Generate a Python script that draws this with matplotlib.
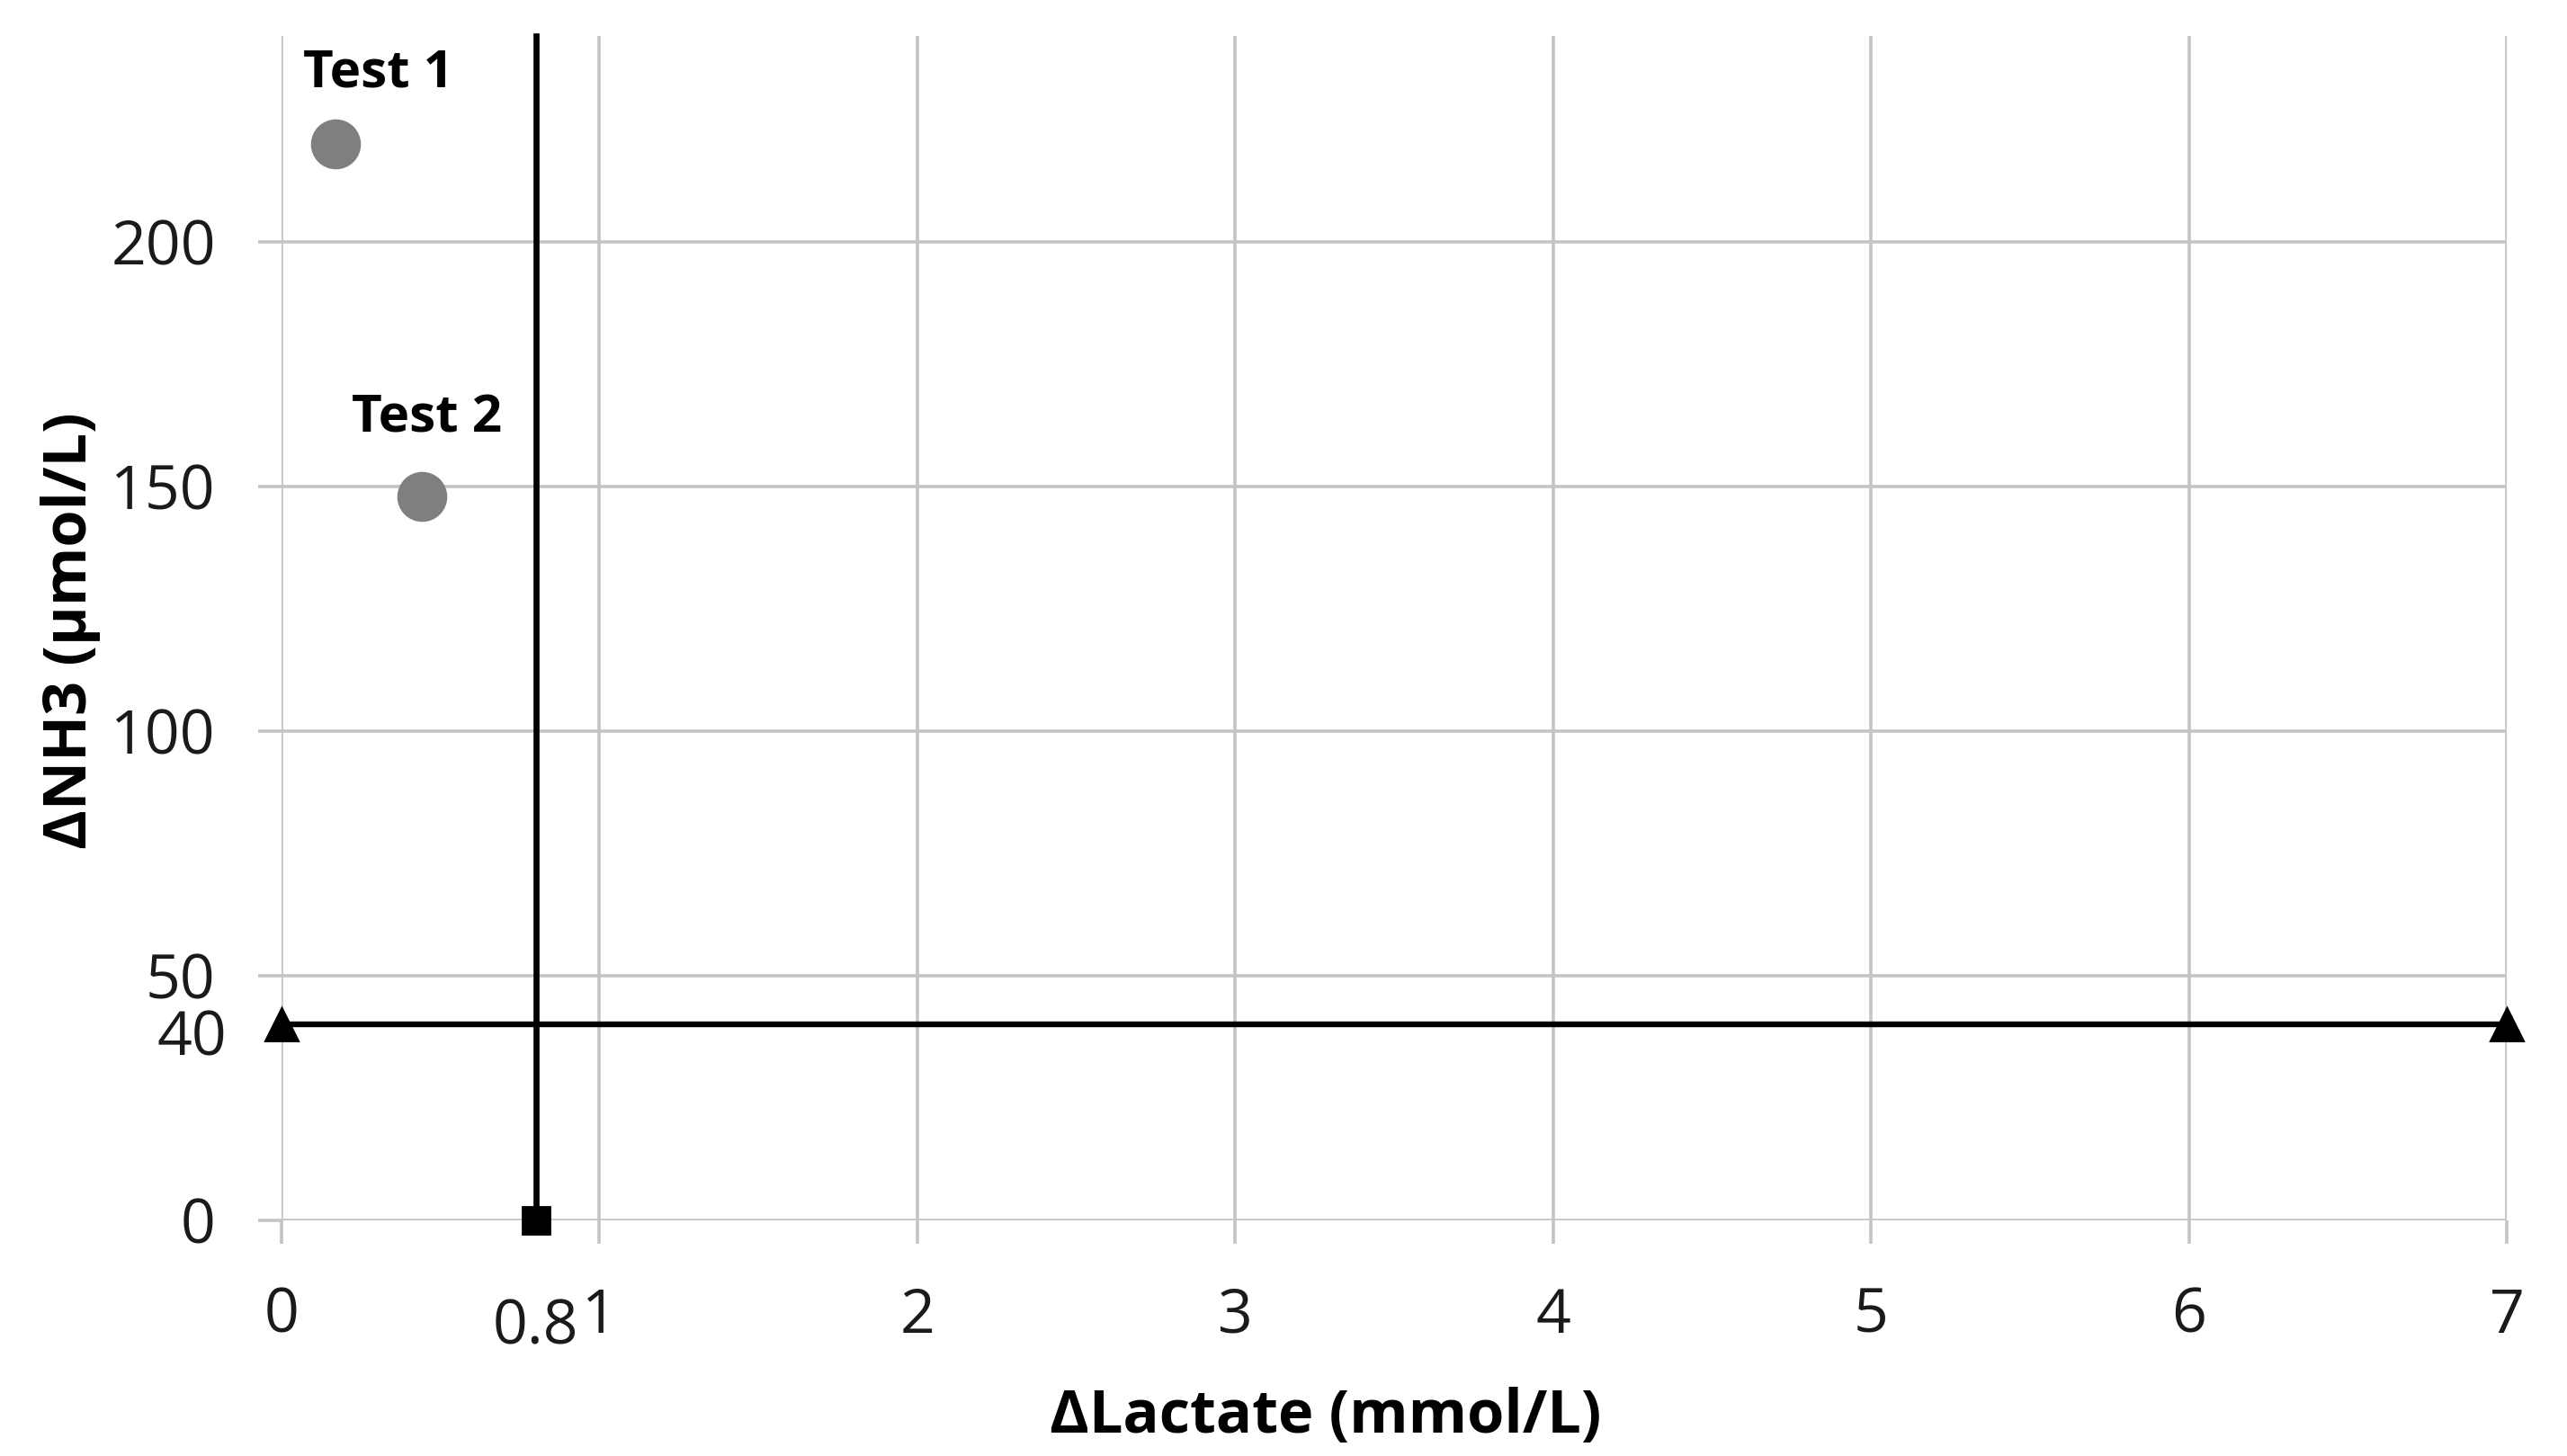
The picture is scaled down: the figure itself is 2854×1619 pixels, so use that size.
"""Scatter of ΔNH3 vs ΔLactate with threshold lines."""
import matplotlib
matplotlib.use("Agg")
import matplotlib.pyplot as plt
import matplotlib.transforms as mtrans

plt.rcParams['font.family'] = ['Open Sans', 'DejaVu Sans']

# data
test_names = ['Test 1', 'Test 2']
test_lactate = [0.17, 0.44]
test_nh3 = [220, 148]
test_offsets = [(17, 28), (2, 31)]   # label offsets in points

lactate_cut = 0.8     # vertical threshold
nh3_cut = 40          # horizontal threshold
x_min, x_max = 0, 7
y_min, y_max = 0, 242

x_ticks = [0, 1, 2, 3, 4, 5, 6, 7]
y_ticks = [0, 50, 100, 150, 200]

GRID = '#c4c4c4'

fig = plt.figure(figsize=(14.27, 8.095), dpi=200)
ax = fig.add_axes([0.1097, 0.1618, 0.8668, 0.8135])

ax.set_xlim(x_min, x_max)
ax.set_ylim(y_min, y_max)
for s in ax.spines.values():
    s.set_visible(False)

ax.set_xticks(x_ticks)
ax.set_yticks(y_ticks)
ax.set_xticks([lactate_cut], minor=True)
ax.set_yticks([nh3_cut], minor=True)
ax.set_xticklabels([f'{t:g}' for t in x_ticks])
ax.set_yticklabels([f'{t:g}' for t in y_ticks])
ax.set_xticklabels([f'{lactate_cut:g}'], minor=True)
ax.set_yticklabels([f'{nh3_cut:g}'], minor=True)

ax.tick_params(which='major', length=9.4, width=1.3, color=GRID, pad=17,
               labelsize=24.5, labelcolor='#1a1a1a')
ax.tick_params(which='minor', length=0, labelsize=24.5, labelcolor='#1a1a1a')
ax.tick_params(axis='y', which='minor', pad=22)
ax.tick_params(axis='x', which='minor', pad=31)

# nudge the "40" label down a little so it clears "50"
for lab in ax.get_yticklabels(minor=True):
    lab.set_transform(lab.get_transform() +
                      mtrans.ScaledTranslation(0, -3 / 72, fig.dpi_scale_trans))

ax.grid(True, which='major', color=GRID, linewidth=1.3)
ax.set_axisbelow(True)

# thresholds
ax.plot([lactate_cut, lactate_cut], [y_min, y_max], color='black', lw=2.4,
        marker='s', markersize=10.8, markevery=[0], zorder=3, clip_on=False)
ax.plot([x_min, x_max], [nh3_cut, nh3_cut], color='black', lw=2.3,
        marker='^', markersize=13, zorder=3, clip_on=False)

# test points
ax.plot(test_lactate, test_nh3, linestyle='none', marker='o', markersize=19,
        color='#7f7f7f', zorder=4)
for name, xv, yv, off in zip(test_names, test_lactate, test_nh3, test_offsets):
    ax.annotate(name, (xv, yv), xytext=off, textcoords='offset points',
                ha='center', va='center', fontsize=21, fontweight='bold')

ax.set_xlabel('ΔLactate (mmol/L)', fontsize=24, fontweight='bold', va='center')
ax.set_ylabel('ΔNH3 (μmol/L)', fontsize=24, fontweight='bold', va='center')
ax.xaxis.set_label_coords(0.469, -0.166)
ax.yaxis.set_label_coords(-0.095, 0.498)

fig.savefig('out.png', dpi=200)
